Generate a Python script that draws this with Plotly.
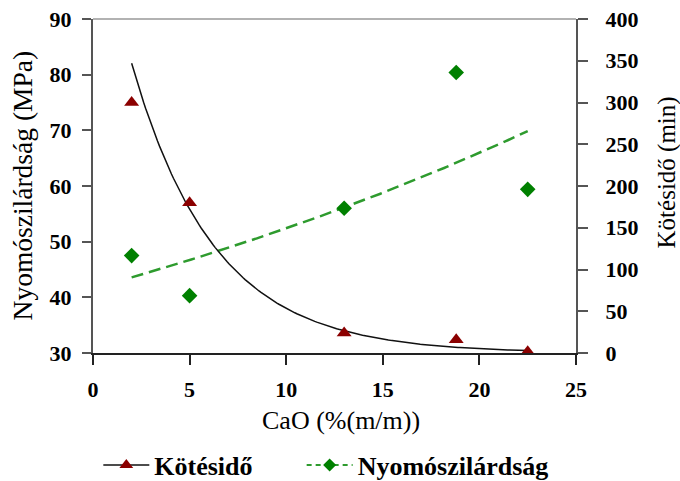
import numpy as np
import plotly.graph_objects as go

# Data
cao = [2, 5, 13, 18.8, 22.5]                 # CaO (%(m/m))
kotesido = [300, 180, 24, 16, 1.5]           # Kötésidő (min), right axis
nyomoszilardsag = [47.5, 40.3, 56, 80.4, 59.4]  # Nyomószilárdság (MPa), left axis

x_ticks = [0, 5, 10, 15, 20, 25]
y_left_ticks = [30, 40, 50, 60, 70, 80, 90]
y_right_ticks = [0, 50, 100, 150, 200, 250, 300, 350, 400]


def exp_trend(x, y, n=200):
    """Exponential least-squares trendline (as in spreadsheet software)."""
    b, ln_a = np.polyfit(np.asarray(x, float), np.log(np.asarray(y, float)), 1)
    xs = np.linspace(min(x), max(x), n)
    return xs, np.exp(ln_a) * np.exp(b * xs)


SERIF = "Liberation Serif"
RED = "#8B0000"
GREEN = "#008000"
GREEN_LINE = "#2E9B2E"

fig = go.Figure()

# Nyomószilárdság trend + points (left axis)
tx, ty = exp_trend(cao, nyomoszilardsag)
fig.add_trace(go.Scatter(x=tx, y=ty, mode="lines", yaxis="y",
                         line=dict(color=GREEN_LINE, width=2.5, dash="12px,6px"),
                         showlegend=False, hoverinfo="skip"))
fig.add_trace(go.Scatter(x=cao, y=nyomoszilardsag, mode="markers", yaxis="y",
                         marker=dict(symbol="diamond", size=12, color=GREEN),
                         showlegend=False))

# Kötésidő trend + points (right axis)
tx2, ty2 = exp_trend(cao, kotesido)
fig.add_trace(go.Scatter(x=tx2, y=ty2, mode="lines", yaxis="y2",
                         line=dict(color="#111111", width=1.5),
                         showlegend=False, hoverinfo="skip"))
fig.add_trace(go.Scatter(x=cao, y=kotesido, mode="markers", yaxis="y2",
                         marker=dict(symbol="triangle-up", size=13, color=RED),
                         showlegend=False))

# Legend entries (two separate legends for exact placement)
fig.add_trace(go.Scatter(x=[None], y=[None], mode="lines+markers", name="Kötésidő",
                         line=dict(color="#111111", width=1.5),
                         marker=dict(symbol="triangle-up", size=12, color=RED),
                         legend="legend"))
fig.add_trace(go.Scatter(x=[None], y=[None], mode="lines+markers", name="Nyomószilárdság",
                         line=dict(color=GREEN_LINE, width=2, dash="5px,4px"),
                         marker=dict(symbol="diamond", size=10, color=GREEN),
                         legend="legend2"))

tickfont = dict(family=SERIF, size=22, color="black", weight="bold")
legend_common = dict(orientation="h", xanchor="left", yref="container", y=0.033,
                     yanchor="middle", itemwidth=46, bgcolor="rgba(0,0,0,0)",
                     font=dict(family=SERIF, size=26, color="black", weight="bold"))

fig.update_layout(
    width=680, height=481,
    margin=dict(l=92.6, r=104, t=19, b=127.7, autoexpand=False),
    paper_bgcolor="white", plot_bgcolor="white",
    showlegend=True,
    legend=dict(x=0.011, **legend_common),
    legend2=dict(x=0.432, **legend_common),
    xaxis=dict(range=[0, 25], tickvals=x_ticks, showgrid=False, zeroline=False,
               automargin=False,
               showline=True, linecolor="#222222", linewidth=2,
               ticks="outside", ticklen=10, tickwidth=1.5, tickcolor="#222222",
               tickfont=tickfont, ticklabelstandoff=6),
    yaxis=dict(range=[30, 90], tickvals=y_left_ticks, showgrid=False, zeroline=False,
               automargin=False,
               showline=True, linecolor="#555555", linewidth=2,
               ticks="outside", ticklen=9, tickwidth=1.5, tickcolor="#555555",
               tickfont=tickfont, ticklabelstandoff=6),
    yaxis2=dict(range=[0, 400], tickvals=y_right_ticks, overlaying="y", side="right",
                showgrid=False, zeroline=False, automargin=False,
                showline=True, linecolor="#555555", linewidth=2,
                ticks="outside", ticklen=10, tickwidth=1.5, tickcolor="#555555",
                tickfont=tickfont, ticklabelstandoff=13),
    shapes=[dict(type="line", xref="paper", yref="paper", x0=0, x1=1, y0=1, y1=1,
                 line=dict(color="#999999", width=1.5))],
    annotations=[
        dict(text="CaO (%(m/m))", xref="paper", yref="paper", x=0.514, y=-0.2025,
             xanchor="center", yanchor="middle", showarrow=False,
             font=dict(family=SERIF, size=26, color="black")),
        dict(text="Nyomószilárdság (MPa)", xref="paper", yref="paper", x=-0.144, y=0.503,
             xanchor="center", yanchor="middle", showarrow=False, textangle=-90,
             font=dict(family=SERIF, size=27.5, color="black")),
        dict(text="Kötésidő (min)", xref="paper", yref="paper", x=1.188, y=0.54,
             xanchor="center", yanchor="middle", showarrow=False, textangle=-90,
             font=dict(family=SERIF, size=25, color="black")),
    ],
)

fig.write_html("out.html")
